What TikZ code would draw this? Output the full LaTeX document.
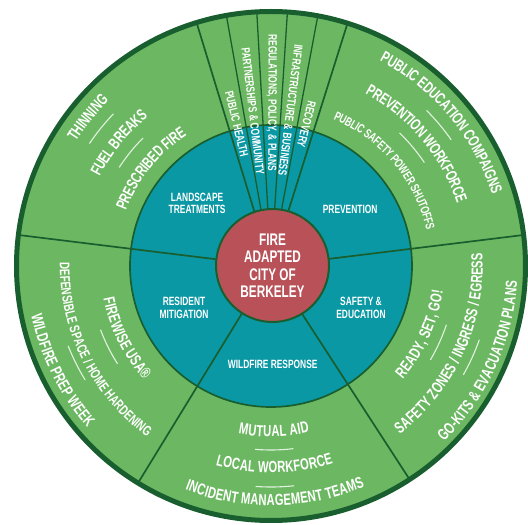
\documentclass[tikz,border=0pt]{standalone}
\usepackage{fontspec}
\usepackage{tikz}
\usetikzlibrary{decorations.text}
\newfontfamily\cnd[FakeStretch=0.7]{Liberation Sans}
\definecolor{ringgreen}{RGB}{108,184,98}
\definecolor{hubteal}{RGB}{10,152,164}
\definecolor{corered}{RGB}{184,82,88}
\definecolor{rimgreen}{RGB}{24,94,46}
\newcommand{\bigfont}{\cnd\bfseries\fontsize{16}{16}\selectfont}
\newcommand{\midfont}{\cnd\bfseries\fontsize{14}{14}\selectfont}
\newcommand{\smallfont}{\cnd\bfseries\fontsize{12.5}{12.5}\selectfont}

\tikzset{
  ringtext/.style={decorate, decoration={text along path, text align=center, text color=white, raise=#1}},
  seg/.style={rimgreen, line width=1.7pt},
  fanline/.style={rimgreen, line width=1.3pt},
  dashmark/.style={white, opacity=0.8, line width=1.1pt},
  hub/.style={text=white, font=\cnd\bfseries\fontsize{12}{12.5}\selectfont, align=center},
  fan/.style={text=white, font=\cnd\bfseries\fontsize{12}{12}\selectfont, inner sep=0pt},
  core/.style={circle, fill=corered, draw=rimgreen, line width=2pt, minimum size=113pt, text=white, align=center, font=\cnd\bfseries\fontsize{16.8}{17.5}\selectfont},
}

\begin{document}
\begin{tikzpicture}[x=1pt, y=1pt]
    \useasboundingbox (-271,-259) rectangle (257,266);
    \fill[white] (-271,-259) rectangle (257,266);
    \fill[ringgreen] (0,0) circle (255);
    \fill[hubteal] (0,0) circle (141);
    \foreach \a in {7,173,238.5,303} \draw[seg] (\a:56) -- (\a:254);
    \foreach \a in {79.4,86.3,93.2,100.1} \draw[fanline] (\a:56) -- (\a:254);
    \foreach \a in {72.5,107} \draw[seg] (\a:56) -- (\a:254);
    \draw[seg] (0,0) circle (141);
    \draw[rimgreen, line width=5pt] (0,0) circle (254.5);
    \node[core] (core) at (1.5,0.5) {FIRE\\ADAPTED\\CITY OF\\BERKELEY};

    \node[hub] (landscape) at (139.6:97) {LANDSCAPE\\TREATMENTS};
    \node[hub] (prevention) at (35.8:97.6) {PREVENTION};
    \node[hub] (resident) at (205.8:96.6) {RESIDENT\\MITIGATION};
    \node[hub] (safety) at (335:99.3) {SAFETY \&\\EDUCATION};
    \node[hub] (response) at (271:98) {WILDFIRE RESPONSE};

    \node[fan, rotate=103.55-180] (health) at (103.55:146) {PUBLIC HEALTH};
    \node[fan, rotate=96.65-180] (community) at (96.65:156) {PARTNERSHIPS \& COMMUNITY};
    \node[fan, rotate=89.75-180] (plans) at (89.75:163) {REGULATIONS, POLICY, \& PLANS};
    \node[fan, rotate=82.85-180] (business) at (82.85:157) {INFRASTRUCTURE \& BUSINESS};
    \node[fan, rotate=75.95-180] (recovery) at (75.95:146) {RECOVERY};

    \path[ringtext=-5.7pt, decoration={text={|\bigfont|THINNING}}] (141+40:237) arc[start angle=141+40, end angle=141-40, radius=237];
    \path[ringtext=-5.7pt, decoration={text={|\bigfont|FUEL BREAKS}}] (141+40:199) arc[start angle=141+40, end angle=141-40, radius=199];
    \path[ringtext=-5.7pt, decoration={text={|\bigfont|PRESCRIBED FIRE}}] (141+40:161) arc[start angle=141+40, end angle=141-40, radius=161];
    \draw[dashmark] (141+5:219) arc[start angle=141+5, end angle=141-5, radius=219];
    \draw[dashmark] (141+6:181) arc[start angle=141+6, end angle=141-6, radius=181];

    \path[ringtext=-5.7pt, decoration={text={|\bigfont|PUBLIC EDUCATION COMPAIGNS}}] (40+40:238) arc[start angle=40+40, end angle=40-40, radius=238];
    \path[ringtext=-5.7pt, decoration={text={|\bigfont|PREVENTION WORKFORCE}}] (40+40:202) arc[start angle=40+40, end angle=40-40, radius=202];
    \path[ringtext=-4.5pt, decoration={text={|\smallfont|PUBLIC SAFETY POWER SHUTOFFS}}] (40+40:164) arc[start angle=40+40, end angle=40-40, radius=164];
    \draw[dashmark] (40+5:220) arc[start angle=40+5, end angle=40-5, radius=220];
    \draw[dashmark] (40+6:185) arc[start angle=40+6, end angle=40-6, radius=185];

    \path[ringtext=-5.7pt, decoration={text={|\bigfont|FIREWISE USA®}}] (206.5-40:165) arc[start angle=206.5-40, end angle=206.5+40, radius=165];
    \path[ringtext=-5pt, decoration={text={|\midfont|DEFENSIBLE SPACE / HOME HARDENING}}] (206.5-40:206) arc[start angle=206.5-40, end angle=206.5+40, radius=206];
    \path[ringtext=-5.7pt, decoration={text={|\bigfont|WILDFIRE PREP WEEK}}] (206.5-40:239) arc[start angle=206.5-40, end angle=206.5+40, radius=239];
    \draw[dashmark] (206.5-6:182) arc[start angle=206.5-6, end angle=206.5+6, radius=182];
    \draw[dashmark] (206.5-5:218) arc[start angle=206.5-5, end angle=206.5+5, radius=218];

    \path[ringtext=-5.7pt, decoration={text={|\bigfont|MUTUAL AID}}] (271-40:165) arc[start angle=271-40, end angle=271+40, radius=165];
    \path[ringtext=-5.7pt, decoration={text={|\bigfont|LOCAL WORKFORCE}}] (271-40:201) arc[start angle=271-40, end angle=271+40, radius=201];
    \path[ringtext=-5.7pt, decoration={text={|\bigfont|INCIDENT MANAGEMENT TEAMS}}] (271-40:234) arc[start angle=271-40, end angle=271+40, radius=234];
    \draw[dashmark] (271-6:184) arc[start angle=271-6, end angle=271+6, radius=184];
    \draw[dashmark] (271-5:221) arc[start angle=271-5, end angle=271+5, radius=221];

    \path[ringtext=-5.7pt, decoration={text={|\bigfont|READY, SET, GO!}}] (335.5-40:168) arc[start angle=335.5-40, end angle=335.5+40, radius=168];
    \path[ringtext=-5.7pt, decoration={text={|\bigfont|SAFETY ZONES / INGRESS / EGRESS}}] (335.5-40:206) arc[start angle=335.5-40, end angle=335.5+40, radius=206];
    \path[ringtext=-5.7pt, decoration={text={|\bigfont|GO-KITS {\&} EVACUATION PLANS}}] (335.5-40:241) arc[start angle=335.5-40, end angle=335.5+40, radius=241];
    \draw[dashmark] (335.5-6:185) arc[start angle=335.5-6, end angle=335.5+6, radius=185];
    \draw[dashmark] (335.5-5:221) arc[start angle=335.5-5, end angle=335.5+5, radius=221];
\end{tikzpicture}
\end{document}
